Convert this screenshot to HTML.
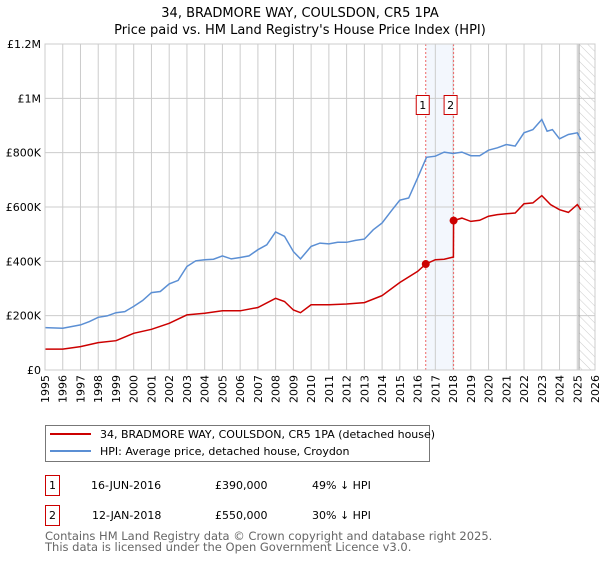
<!DOCTYPE html>
<html><head><meta charset="utf-8"><style>
body{margin:0;background:#fff;font-family:"DejaVu Sans","Liberation Sans",sans-serif;}
svg text{font-family:"DejaVu Sans","Liberation Sans",sans-serif;}
</style></head><body>
<svg id="chart" width="600" height="560" xmlns="http://www.w3.org/2000/svg">
<defs><pattern id="hatch" width="6" height="6" patternUnits="userSpaceOnUse" patternTransform="rotate(-45)"><line x1="0" y1="0" x2="0" y2="6" stroke="#ccc" stroke-width="1"/></pattern></defs>
<text x="300" y="17" text-anchor="middle" font-size="13" fill="#000">34, BRADMORE WAY, COULSDON, CR5 1PA</text>
<text x="300" y="34" text-anchor="middle" font-size="13" fill="#000">Price paid vs. HM Land Registry's House Price Index (HPI)</text>
<g id="grid"></g><g id="marks"></g><g id="axes"></g>
<rect x="45.5" y="425.5" width="384" height="36" fill="#fff" stroke="#777"/>
<line x1="50" y1="434" x2="91" y2="434" stroke="#cc0000" stroke-width="2"/>
<text x="100" y="438" font-size="11">34, BRADMORE WAY, COULSDON, CR5 1PA (detached house)</text>
<line x1="50" y1="451" x2="91" y2="451" stroke="#5b8fd4" stroke-width="2"/>
<text x="100" y="455" font-size="11">HPI: Average price, detached house, Croydon</text>
<g>
<rect x="45.5" y="475.5" width="14" height="20" fill="#fff" stroke="#cc0000"/>
<text x="52.5" y="489" text-anchor="middle" font-size="11">1</text>
<text x="91" y="489" font-size="11">16-JUN-2016</text>
<text x="215" y="489" font-size="11">£390,000</text>
<text x="312" y="489" font-size="11">49% ↓ HPI</text></g>
<g>
<rect x="45.5" y="505.5" width="14" height="20" fill="#fff" stroke="#cc0000"/>
<text x="52.5" y="519" text-anchor="middle" font-size="11">2</text>
<text x="92" y="519" font-size="11">12-JAN-2018</text>
<text x="215" y="519" font-size="11">£550,000</text>
<text x="312" y="519" font-size="11">30% ↓ HPI</text></g>
<text x="45" y="540" font-size="11.5" fill="#666">Contains HM Land Registry data © Crown copyright and database right 2025.</text>
<text x="45" y="551" font-size="11.5" fill="#666">This data is licensed under the Open Government Licence v3.0.</text>
</svg>
<script>
const hpiYears=[1995,1996,1997,1997.5,1998,1998.5,1999,1999.5,2000,2000.5,2001,2001.5,2002,2002.5,2003,2003.5,2004,2004.5,2005,2005.5,2006,2006.5,2007,2007.5,2008,2008.5,2009,2009.4,2010,2010.5,2011,2011.5,2012,2012.5,2013,2013.5,2014,2014.5,2015,2015.5,2016,2016.5,2017,2017.5,2018,2018.5,2019,2019.5,2020,2020.5,2021,2021.5,2022,2022.5,2023,2023.3,2023.6,2024,2024.5,2025,2025.2];
const hpiValues=[156,154,166,178,194,199,211,215,234,256,285,289,317,330,381,402,406,408,420,409,414,420,443,461,508,492,436,409,455,467,464,470,470,477,482,516,541,584,625,633,707,783,787,802,797,802,789,789,809,818,830,824,873,885,922,879,885,851,867,873,848];
const paidYears=[1995,1996,1997,1998,1999,2000,2001,2002,2003,2004,2005,2006,2007,2008,2008.5,2009,2009.4,2010,2011,2012,2013,2014,2015,2016,2016.46,2017,2017.5,2018.02,2018.03,2018.5,2019,2019.5,2020,2020.5,2021,2021.5,2022,2022.5,2023,2023.5,2024,2024.5,2025,2025.2];
const paidValues=[77,77,86,101,108,135,150,172,203,209,218,218,230,264,252,221,211,240,240,243,248,274,322,363,390,406,408,416,550,559,547,551,566,572,575,578,612,615,642,609,590,580,609,590];
const saleYears=[2016.46,2018.03];
const saleValues=[390,550];
const saleLabels=["1","2"];
const yTicks=[0,200,400,600,800,1000,1200];
const yTickLabels=["£0","£200K","£400K","£600K","£800K","£1M","£1.2M"];
const xTicks=[1995,1996,1997,1998,1999,2000,2001,2002,2003,2004,2005,2006,2007,2008,2009,2010,2011,2012,2013,2014,2015,2016,2017,2018,2019,2020,2021,2022,2023,2024,2025,2026];
const dataEnd=2025.1;
const NS="http://www.w3.org/2000/svg";
const X0=45,X1=595,Y0=370,Y1=44;
const xs=y=>X0+(y-1995)/(2026-1995)*(X1-X0);
const ys=v=>Y0-v/1200*(Y0-Y1);
function mk(p,t,a){const e=document.createElementNS(NS,t);for(const k in a)e.setAttribute(k,a[k]);p.appendChild(e);return e;}
const grid=document.getElementById('grid'),marks=document.getElementById('marks'),axes=document.getElementById('axes');
let r=mk(grid,'rect',{x:X0,y:Y1,width:X1-X0,height:Y0-Y1,fill:'#fff'});


let band=mk(grid,'rect',{x:xs(saleYears[0]),y:Y1,width:xs(saleYears[1])-xs(saleYears[0]),height:Y0-Y1,fill:'#eef3fc',opacity:0.7});


xTicks.forEach(t=>{const l=mk(grid,'line',{x1:xs(t),x2:xs(t),y1:Y1,y2:Y0,stroke:'#ccc'});


const tx=mk(axes,'text',{x:0,y:0,'text-anchor':'end','font-size':11,transform:'translate('+(xs(t)+4)+','+(Y0+5)+') rotate(-90)'});tx.textContent=t;

});
yTicks.forEach((t,i)=>{const l=mk(grid,'line',{x1:X0,x2:X1,y1:ys(t),y2:ys(t),stroke:'#ccc'});


const tx=mk(axes,'text',{x:X0-4,y:ys(t)+4,'text-anchor':'end','font-size':11});tx.textContent=yTickLabels[i];

});
let h=mk(grid,'rect',{x:xs(dataEnd),y:Y1,width:X1-xs(dataEnd),height:Y0-Y1,fill:'url(#hatch)'});


let el=mk(grid,'line',{x1:xs(dataEnd),x2:xs(dataEnd),y1:Y1,y2:Y0,stroke:'#999'});


saleYears.forEach((y,i)=>{const l=mk(marks,'line',{x1:xs(y),x2:xs(y),y1:Y1,y2:Y0,stroke:'#e66','stroke-dasharray':'2,2'});


const g=mk(marks,'g',{});


mk(g,'rect',{x:xs(y)-9.5,y:95.5,width:13,height:19,fill:'#fff',stroke:'#cc0000'});
const t=mk(g,'text',{x:xs(y)-3,y:109,'text-anchor':'middle','font-size':11});t.textContent=saleLabels[i];});
const pts=(a,b)=>a.map((y,i)=>xs(y).toFixed(1)+','+ys(b[i]).toFixed(1)).join(' ');
let hp=mk(marks,'polyline',{points:pts(hpiYears,hpiValues),fill:'none',stroke:'#5b8fd4','stroke-width':1.5});


let pp=mk(marks,'polyline',{points:pts(paidYears,paidValues),fill:'none',stroke:'#cc0000','stroke-width':1.5});


saleYears.forEach((y,i)=>{const c=mk(marks,'circle',{cx:xs(y),cy:ys(saleValues[i]),r:4,fill:'#cc0000'});

});
let fr=mk(axes,'rect',{x:X0,y:Y1,width:X1-X0,height:Y0-Y1,fill:'none',stroke:'#ccc'});


</script>
</body></html>
